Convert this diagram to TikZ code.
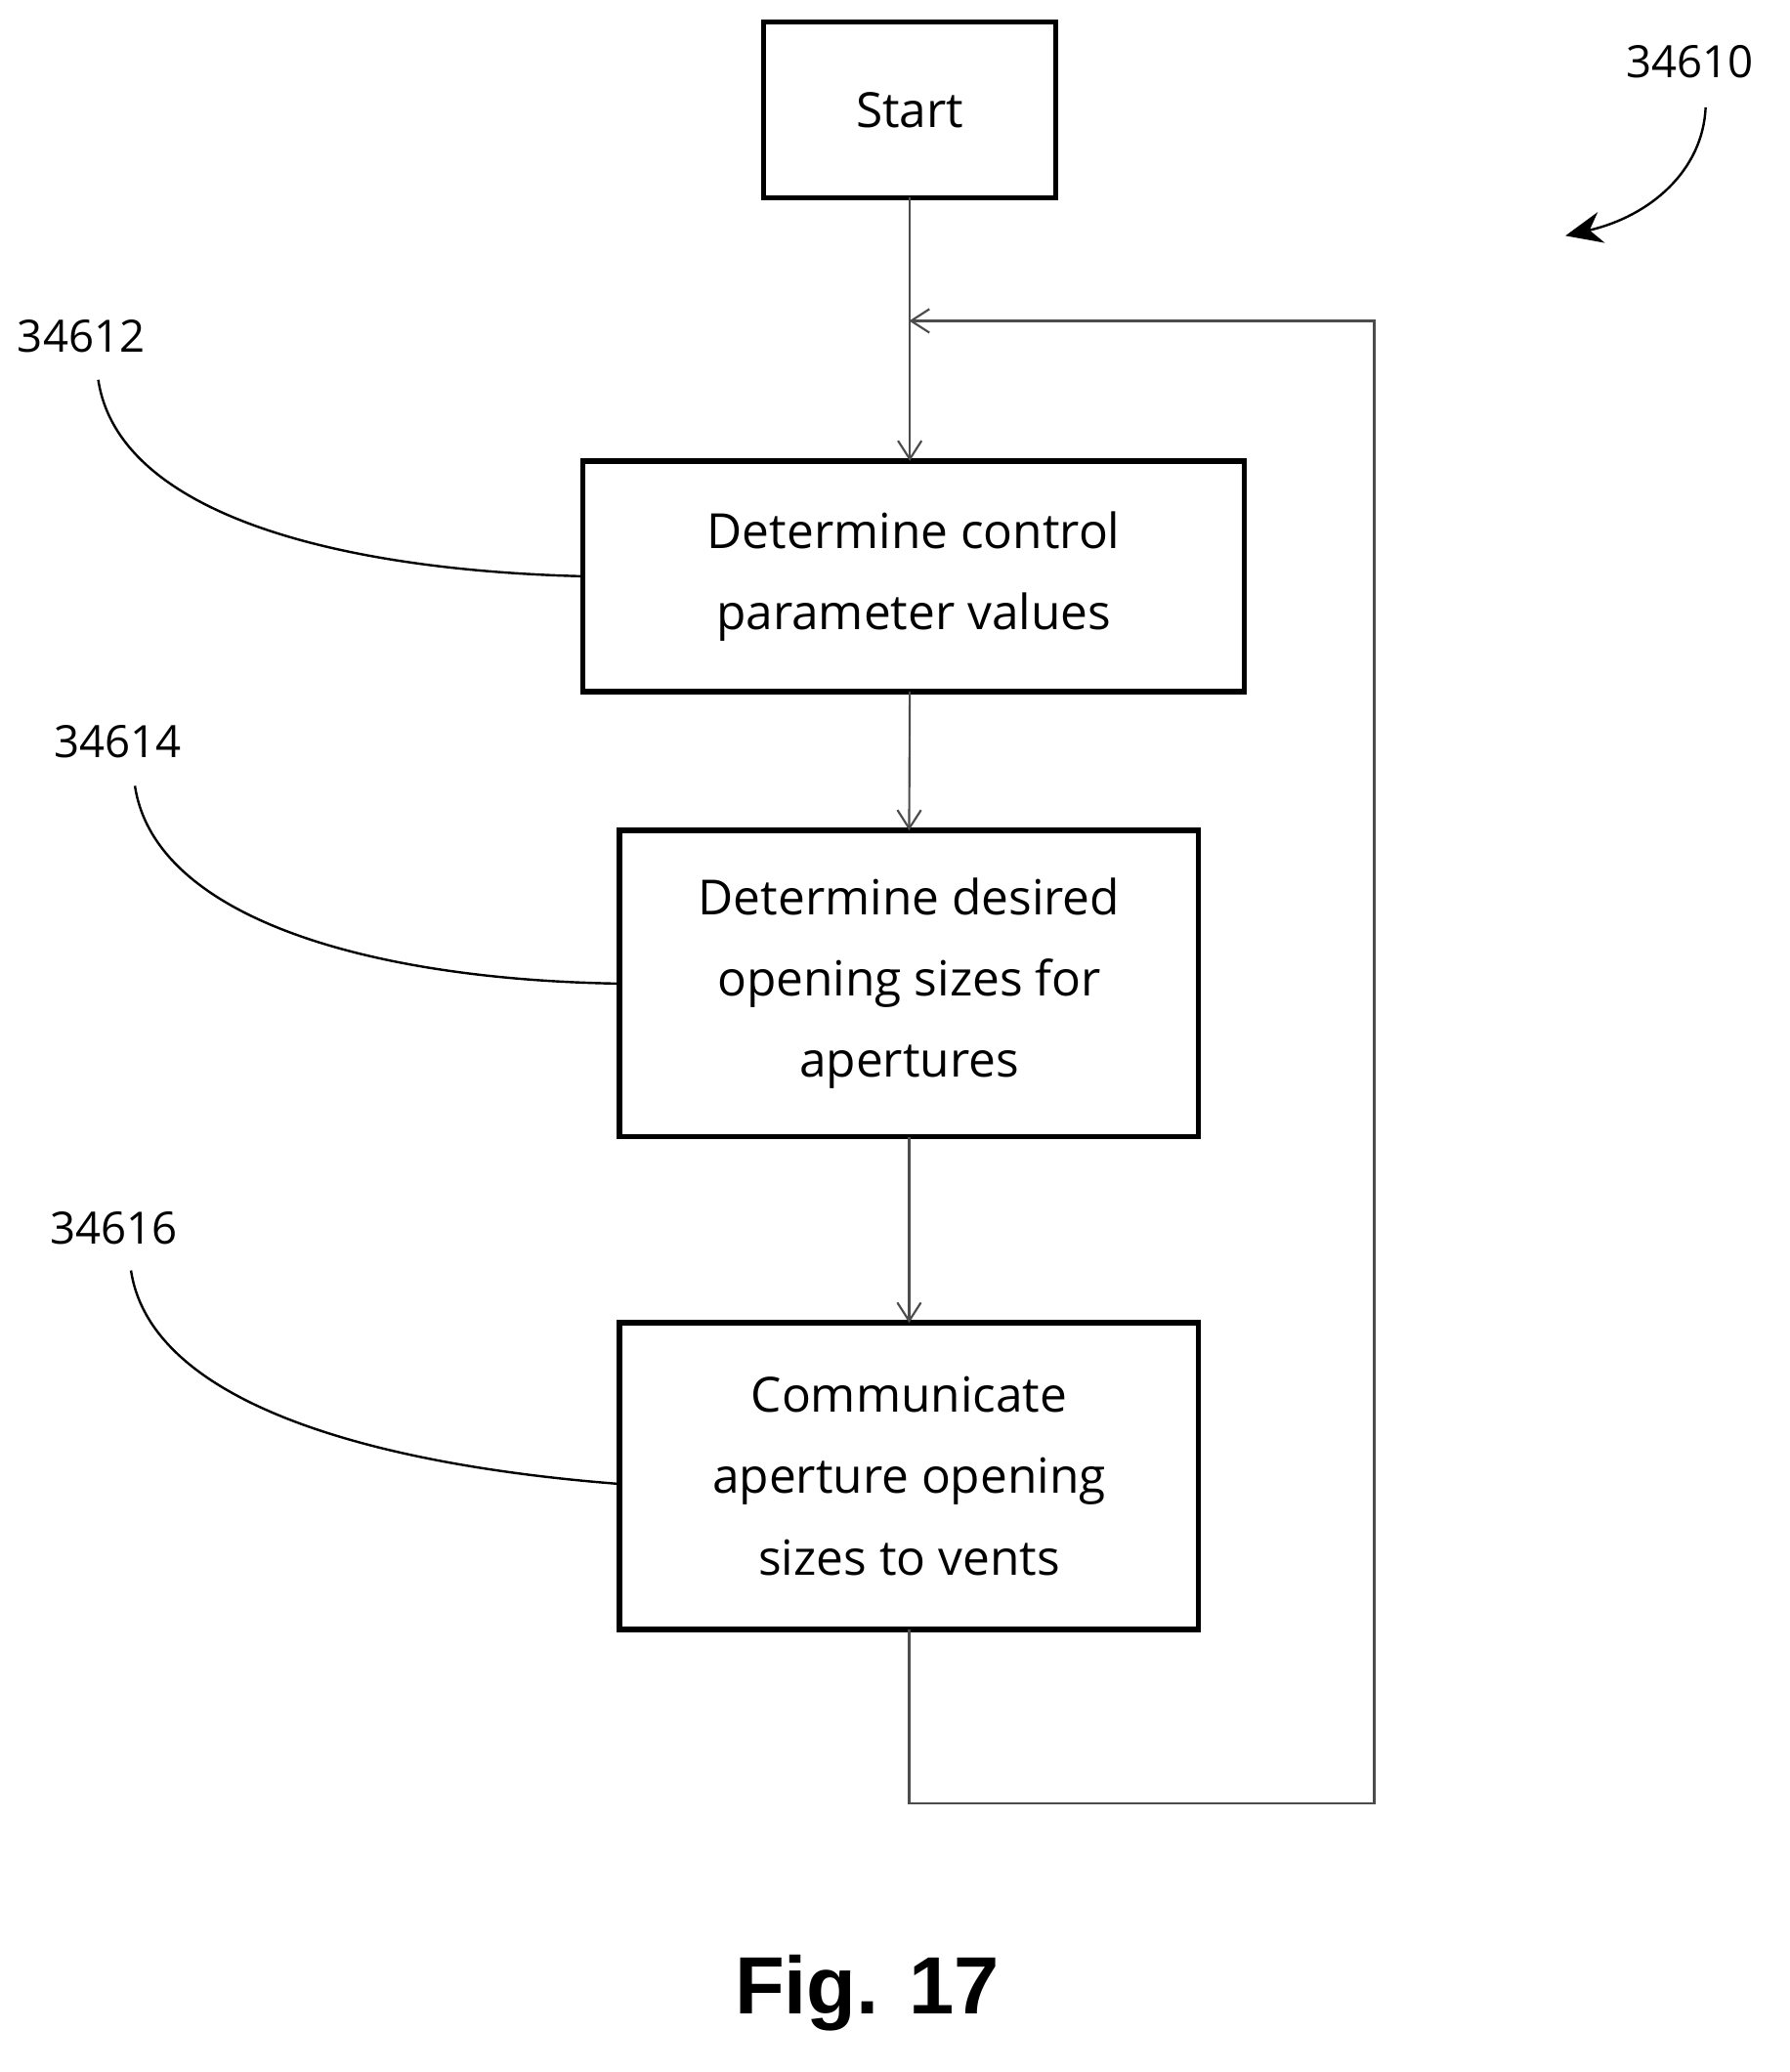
\documentclass[tikz,border=0pt]{standalone}
\usepackage{fontspec}
\setmainfont{Open Sans}
\newfontfamily\figfont{Liberation Sans}
\usetikzlibrary{arrows.meta}
\begin{document}
\begin{tikzpicture}[x=0.5pt,y=-0.5pt,
  box/.style={draw,line width=2pt,align=center,font=\fontsize{18.5}{31}\selectfont,inner sep=0,outer sep=0},
  flow/.style={draw=black!70,line width=0.8pt},
  arr/.style={flow,-{Straight Barb[length=7pt,width=9pt]}},
  lbl/.style={font=\fontsize{17}{20}\selectfont},
  lead/.style={line width=0.9pt}]
\useasboundingbox (0,0) rectangle (1366,1582);
\node[box,minimum width=111.5pt,minimum height=67pt] (s) at (694.5,84) {Start};
\node[box,minimum width=252.5pt,minimum height=88pt] (b1) at (697.5,440) {Determine control\\parameter values};
\node[box,minimum width=221pt,minimum height=117pt] (b2) at (694,751) {Determine desired\\opening sizes for\\apertures};
\node[box,minimum width=221pt,minimum height=117pt] (b3) at (694,1127) {Communicate\\aperture opening\\sizes to vents};
\coordinate (j) at (694,245);
\coordinate (c1) at (694,1377);
\coordinate (c2) at (1049,1377);
\coordinate (c3) at (1049,245);
\draw[arr] (s.south) -- (b1.north -| s.south);
\draw[arr] (b1.south -| s.south) -- (b2.north);
\draw[arr] (b2.south) -- (b3.north);
\draw[arr] (b3.south) -- (c1) -- (c2) -- (c3) -- (j);
\node[lbl] (l1) at (62,257) {34612};
\node[lbl] (l2) at (90,566) {34614};
\node[lbl] (l3) at (87,938) {34616};
\node[lbl] (l0) at (1290,47) {34610};
\draw[lead] (75,290) .. controls (90,390) and (250,435) .. (b1.west);
\draw[lead] (103,600) .. controls (118,700) and (280,748) .. (b2.west);
\draw[lead] (100,970) .. controls (115,1070) and (280,1118) .. ([yshift=-3pt]b3.west);
\draw[lead,-{Stealth[length=14pt,width=12pt]}] (1302,82) .. controls (1300,130) and (1260,165) .. (1195,180);
\node[font=\figfont\bfseries\fontsize{31}{36}\selectfont] (fig) at (662,1522) {Fig. 17};
\end{tikzpicture}
\end{document}
